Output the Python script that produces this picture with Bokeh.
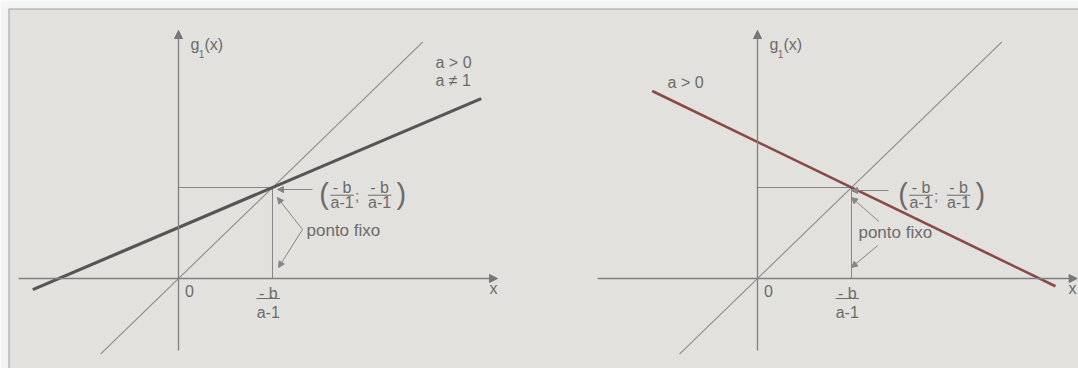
from bokeh.plotting import figure
from bokeh.models import Arrow, NormalHead, Span, Range1d
from bokeh.embed import file_html
from bokeh.resources import INLINE
from bokeh.core.properties import value

# g1(x) = a*x + b, one line per panel
slope_a = [0.44, -0.5]
intercept_b = [0.56, 1.5]
# x extent over which each g1 line is drawn
g_x_ends = [[-1.55, 3.22], [-1.12, 3.17]]
# extent of the bisector y = x
diag_x = [-0.83, 2.6]
# condition labels of each panel
conditions = [["a > 0", "a \u2260 1"], ["a > 0"]]
line_colors = ["#555555", "#8a4946"]
line_widths = [3.2, 2.6]

FONT = value("Liberation Sans")
TXT = "#6b6b6b"
GUIDE = "#858585"
X0, X1 = -1.8085, 9.5745
Y0, Y1 = -0.989, 2.967
PANEL_SHIFT = [0.0, 6.1596]   # horizontal offset of each panel's origin

p = figure(width=1078, height=368, x_range=Range1d(X0, X1), y_range=Range1d(Y0, Y1),
           x_axis_type=None, y_axis_type=None, output_backend="svg",
           toolbar_location=None, min_border_left=8, min_border_top=8,
           min_border_right=0, min_border_bottom=0)
p.outline_line_color = None
p.background_fill_color = "#e3e1dd"
p.border_fill_color = "#f3f4f4"
p.add_layout(Span(location=Y1, dimension="width", line_color="#9fa29f", line_width=2))
p.add_layout(Span(location=X0, dimension="height", line_color="#9fa29f", line_width=2))


def label(x, y, text, size="16px", align="left", baseline="middle"):
    p.text(x=[x], y=[y], text=[text], text_font=FONT, text_font_size=size,
           text_color=TXT, text_align=align, text_baseline=baseline)


def fraction(xc, y_num, y_bar, y_den, half=0.125, size="16px"):
    label(xc, y_num, "- b", size=size, align="center")
    p.segment(x0=[xc - half], y0=[y_bar], x1=[xc + half], y1=[y_bar],
              line_color=TXT, line_width=1)
    label(xc, y_den, "a-1", size=size, align="center")


def pointer(xs, ys, xe, ye):
    p.add_layout(Arrow(x_start=xs, y_start=ys, x_end=xe, y_end=ye,
                       line_color=GUIDE, line_width=1,
                       end=NormalHead(size=6, fill_color=GUIDE, line_color=GUIDE)))


def panel(i, x_axis_start, x_axis_end):
    s = PANEL_SHIFT[i]
    a, b = slope_a[i], intercept_b[i]
    xf = -b / (a - 1)          # fixed point: g1(x) = x
    yf = xf

    # coordinate axes with arrow heads
    head = dict(size=8, fill_color="#777777", line_color="#777777")
    p.add_layout(Arrow(x_start=s, y_start=-0.79, x_end=s, y_end=2.725,
                       line_color="#808080", line_width=1.3, end=NormalHead(**head)))
    p.add_layout(Arrow(x_start=s + x_axis_start, y_start=0, x_end=s + x_axis_end, y_end=0,
                       line_color="#808080", line_width=1.3, end=NormalHead(**head)))

    # bisector y = x
    p.line(x=[s + v for v in diag_x], y=diag_x, line_color="#8a8a8a", line_width=1.1)

    # guides to the fixed point
    p.line(x=[s, s + xf], y=[yf, yf], line_color=GUIDE, line_width=1)
    p.line(x=[s + xf, s + xf], y=[yf, 0], line_color=GUIDE, line_width=1)

    # g1(x)
    gx = g_x_ends[i]
    p.line(x=[s + v for v in gx], y=[a * v + b for v in gx],
           line_color=line_colors[i], line_width=line_widths[i])

    # axis names
    label(s + 0.128, 2.571, "g", baseline="alphabetic")
    label(s + 0.215, 2.47, "1", size="10px", baseline="alphabetic")
    label(s + 0.277, 2.571, "(x)", baseline="alphabetic")
    label(s + 0.07, -0.132, "0")
    label(s + 3.35, -0.11, "x", align="center")

    # -b/(a-1) under the x axis
    fraction(s + xf - 0.045, -0.165, -0.22, -0.374)

    # coordinates of the fixed point
    yl = yf - 0.075
    label(s + xf + 0.55, yl, "(", size="29px", align="center")
    fraction(s + xf + 0.74, yf - 0.005, yf - 0.085, yf - 0.16)
    label(s + xf + 0.9, yl - 0.01, ";", size="15px", align="center")
    fraction(s + xf + 1.14, yf - 0.005, yf - 0.085, yf - 0.16)
    label(s + xf + 1.37, yl, ")", size="29px", align="center")
    return s, xf, yf


# left panel
s, xf, yf = panel(0, -1.70, 3.394)
for k, t in enumerate(conditions[0]):
    label(s + 2.734, 2.374 - 0.198 * k, t)
pointer(s + xf + 0.426, yf - 0.022, s + xf + 0.053, yf - 0.022)
pointer(s + xf + 0.319, 0.538, s + xf + 0.053, 0.89)
pointer(s + xf + 0.319, 0.538, s + xf + 0.064, 0.121)
label(s + xf + 0.362, 0.527, "ponto fixo", size="17px")

# right panel
s, xf, yf = panel(1, -1.70, 3.40)
label(s - 0.957, 2.154, conditions[1][0])
pointer(s + xf + 0.394, yf - 0.033, s + xf, yf - 0.033)
pointer(s + xf + 0.293, 0.626, s + xf, 0.89)
pointer(s + xf + 0.28, 0.363, s + xf, 0.121)
label(s + xf + 0.074, 0.505, "ponto fixo", size="17px")

open("out.html", "w").write(file_html(p, INLINE))
